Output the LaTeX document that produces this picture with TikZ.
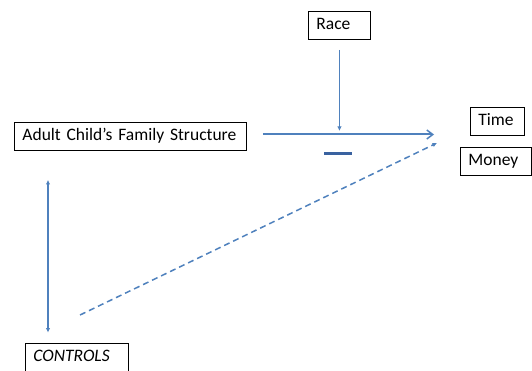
\documentclass[tikz,border=0pt]{standalone}
\usepackage{fontspec}
\setmainfont{Carlito}
\usetikzlibrary{arrows.meta, positioning}
\definecolor{lien}{RGB}{79,129,189}
\definecolor{signe}{RGB}{58,98,160}
\begin{document}
\begin{tikzpicture}[x=1pt, y=-1pt, thick,
    boite/.style={draw=black, line width=0.9pt, anchor=west, align=left,
                  inner xsep=8pt, inner ysep=0pt, minimum height=28pt,
                  text height=12.5pt, text depth=4pt,
                  font=\fontsize{17.5}{21}\selectfont},
    fleche/.style={draw=lien, line width=1.5pt},
    >={Latex[length=4.5pt, width=4.5pt]}]
    \useasboundingbox (0,0) rectangle (532,371);

    % Boîtes placées aux coordonnées
    \node[boite, text width=216pt] (adult) at (14,136.5) {Adult Child’s Family Structure};
    \node[boite, text width=46pt] (race) at (308,25.5) {Race};
    \node[boite, text width=38pt] (time) at (470,121) {Time};
    \node[boite, text width=55pt] (money) at (460,161.5) {Money};
    \node[boite, text width=87pt, font=\fontsize{17.5}{21}\selectfont\itshape] (controls) at (25,357) {CONTROLS};

    % Extrémités libres
    \coordinate (tip) at (434,134.5);
    \coordinate (dtip) at (437,143);
    \coordinate (dstart) at (80,315);

    % Flèche principale et modérateur
    \draw[fleche, line width=2pt, -{Straight Barb[length=6pt, width=9pt, line width=1.5pt]}]
        ([xshift=16pt, yshift=2pt]adult.east) -- (tip);
    \draw[fleche, ->] ([yshift=-10pt]race.south) -- ([yshift=-91pt]race.south);
    \draw[signe, line width=3.5pt] (324,153.5) -- (352,153.5);

    % Contrôles
    \draw[fleche, <->] ([xshift=34pt, yshift=-29pt]adult.south west) -- ([xshift=23pt, yshift=10pt]controls.north west);
    \draw[fleche, dashed, dash pattern=on 6pt off 4pt, ->] (dstart) -- (dtip);

\end{tikzpicture}
\end{document}
